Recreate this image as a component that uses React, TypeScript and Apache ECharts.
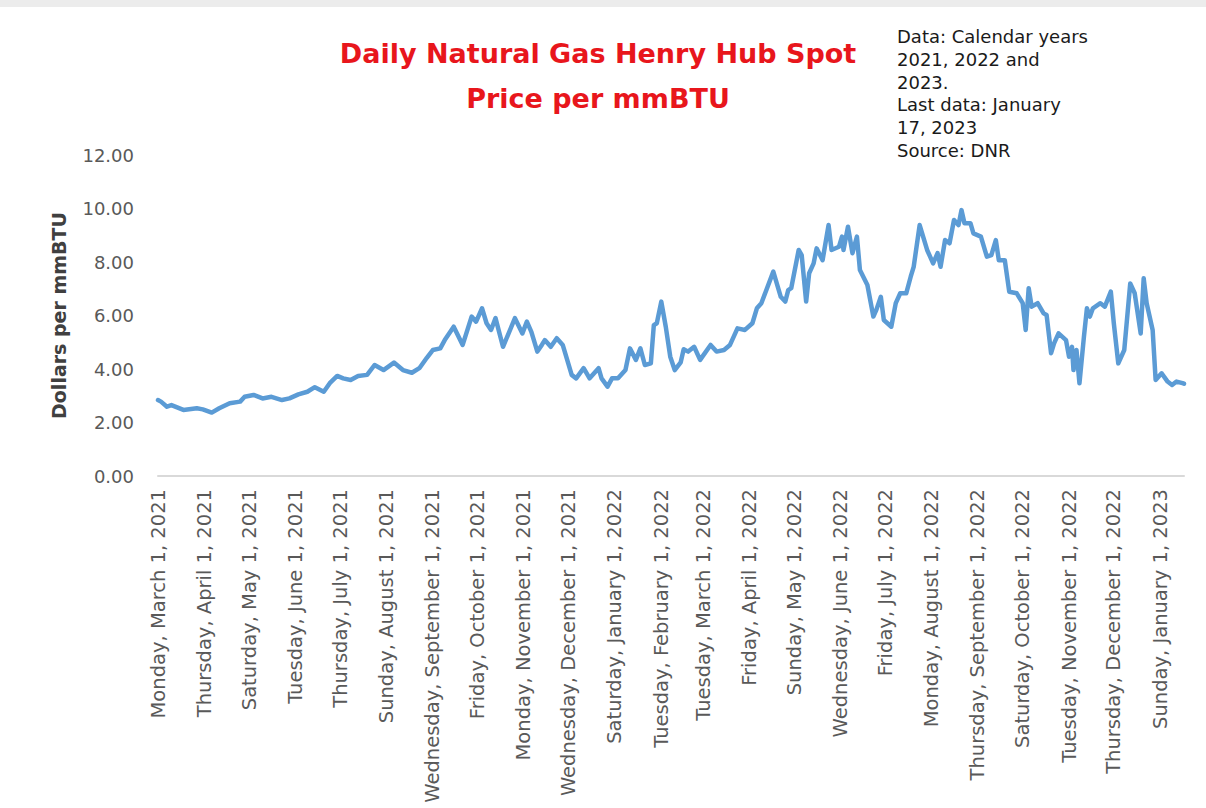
import React, { useEffect, useRef } from "react";
import * as echarts from "echarts";

const titleText = "Daily Natural Gas Henry Hub Spot\nPrice per mmBTU";
const noteLines = [
  "Data: Calendar years",
  "2021, 2022 and",
  "2023.",
  "Last data: January",
  "17, 2023",
  "Source: DNR",
];
const yAxisName = "Dollars per mmBTU";
const yTicks = { min: 0, max: 12, interval: 2 };
const axisStart = "2021-03-01";
const axisEnd = "2023-01-17";

const tickDates = [
  "2021-03-01", "2021-04-01", "2021-05-01", "2021-06-01", "2021-07-01", "2021-08-01",
  "2021-09-01", "2021-10-01", "2021-11-01", "2021-12-01", "2022-01-01", "2022-02-01",
  "2022-03-01", "2022-04-01", "2022-05-01", "2022-06-01", "2022-07-01", "2022-08-01",
  "2022-09-01", "2022-10-01", "2022-11-01", "2022-12-01", "2023-01-01",
];

const priceDates = [
  "2021-03-01", "2021-03-03", "2021-03-07", "2021-03-10", "2021-03-18", "2021-03-27", "2021-03-31",
  "2021-04-06", "2021-04-11", "2021-04-18", "2021-04-25", "2021-04-28",
  "2021-05-04", "2021-05-10", "2021-05-16", "2021-05-23", "2021-05-28",
  "2021-06-03", "2021-06-09", "2021-06-14", "2021-06-20", "2021-06-24", "2021-06-29",
  "2021-07-03", "2021-07-08", "2021-07-13", "2021-07-19", "2021-07-24", "2021-07-30",
  "2021-08-06", "2021-08-12", "2021-08-18", "2021-08-23", "2021-08-28",
  "2021-09-01", "2021-09-06", "2021-09-09", "2021-09-15", "2021-09-21", "2021-09-27", "2021-09-30",
  "2021-10-04", "2021-10-07", "2021-10-10", "2021-10-13", "2021-10-18", "2021-10-26", "2021-10-31",
  "2021-11-03", "2021-11-06", "2021-11-10", "2021-11-13", "2021-11-15", "2021-11-19", "2021-11-23", "2021-11-27",
  "2021-12-03", "2021-12-06", "2021-12-11", "2021-12-15", "2021-12-21", "2021-12-23", "2021-12-27", "2021-12-30",
  "2022-01-03", "2022-01-08", "2022-01-11", "2022-01-15", "2022-01-18", "2022-01-21", "2022-01-25", "2022-01-27", "2022-01-29",
  "2022-02-01", "2022-02-04", "2022-02-07", "2022-02-10", "2022-02-14", "2022-02-16", "2022-02-19", "2022-02-23", "2022-02-27",
  "2022-03-06", "2022-03-10", "2022-03-15", "2022-03-19", "2022-03-24", "2022-03-29",
  "2022-04-03", "2022-04-06", "2022-04-09", "2022-04-17", "2022-04-22", "2022-04-25", "2022-04-27", "2022-04-29",
  "2022-05-04", "2022-05-06", "2022-05-09", "2022-05-11", "2022-05-14", "2022-05-16", "2022-05-20", "2022-05-24", "2022-05-26", "2022-05-31",
  "2022-06-02", "2022-06-03", "2022-06-06", "2022-06-09", "2022-06-12", "2022-06-14", "2022-06-19", "2022-06-23", "2022-06-25", "2022-06-28", "2022-06-30",
  "2022-07-05", "2022-07-08", "2022-07-11", "2022-07-15", "2022-07-18", "2022-07-20", "2022-07-24", "2022-07-29", "2022-07-31",
  "2022-08-02", "2022-08-05", "2022-08-07", "2022-08-10", "2022-08-13", "2022-08-16", "2022-08-19", "2022-08-21", "2022-08-23", "2022-08-27", "2022-08-29",
  "2022-09-03", "2022-09-07", "2022-09-10", "2022-09-13", "2022-09-15", "2022-09-19", "2022-09-22", "2022-09-27",
  "2022-10-01", "2022-10-03", "2022-10-05", "2022-10-07", "2022-10-11", "2022-10-15", "2022-10-17", "2022-10-20", "2022-10-22", "2022-10-25", "2022-10-30",
  "2022-11-01", "2022-11-03", "2022-11-04", "2022-11-06", "2022-11-08", "2022-11-11", "2022-11-13", "2022-11-15", "2022-11-17", "2022-11-22", "2022-11-25", "2022-11-29",
  "2022-12-01", "2022-12-04", "2022-12-08", "2022-12-12", "2022-12-15", "2022-12-19", "2022-12-21", "2022-12-23", "2022-12-27", "2022-12-29",
  "2023-01-02", "2023-01-06", "2023-01-09", "2023-01-12", "2023-01-16", "2023-01-17",
];

const priceValues = [
  2.84, 2.78, 2.59, 2.65, 2.47, 2.53, 2.49,
  2.37, 2.53, 2.72, 2.78, 2.96,
  3.03, 2.9, 2.96, 2.84, 2.9,
  3.05, 3.15, 3.32, 3.15, 3.47, 3.74,
  3.65, 3.59, 3.74, 3.78, 4.15, 3.96,
  4.24, 3.96, 3.86, 4.03, 4.42,
  4.71, 4.77, 5.08, 5.58, 4.9, 5.96, 5.77,
  6.27, 5.71, 5.46, 5.9, 4.83, 5.9, 5.33,
  5.77, 5.39, 4.65, 4.9, 5.08, 4.83, 5.15, 4.9,
  3.78, 3.65, 4.03, 3.65, 4.03, 3.65, 3.34, 3.65,
  3.65, 3.96, 4.77, 4.34, 4.77, 4.15, 4.21, 5.64, 5.71,
  6.52, 5.58, 4.46, 3.96, 4.25, 4.74, 4.65, 4.83, 4.34,
  4.9, 4.65, 4.71, 4.9, 5.52, 5.46,
  5.71, 6.27, 6.46, 7.64, 6.7, 6.52, 6.95, 7.02,
  8.45, 8.26, 6.52, 7.58, 7.95, 8.51, 8.07, 9.38, 8.45, 8.57,
  8.95, 8.45, 9.32, 8.33, 8.95, 7.7, 7.14, 5.96, 6.21, 6.7, 5.83,
  5.58, 6.46, 6.83, 6.83, 7.45, 7.82, 9.38, 8.45, 8.2,
  7.95, 8.33, 7.82, 8.82, 8.7, 9.57, 9.38, 9.94, 9.45, 9.45, 9.07,
  8.95, 8.2, 8.26, 8.82, 8.07, 8.07, 6.89, 6.83,
  6.46, 5.46, 7.02, 6.33, 6.46, 6.08, 6.02, 4.59, 4.96, 5.33, 5.08,
  4.46, 4.83, 3.96, 4.71, 3.47, 5.21, 6.27, 5.96, 6.27, 6.46, 6.33, 6.89,
  5.71, 4.21, 4.71, 7.2, 6.83, 5.33, 7.39, 6.46, 5.46, 3.59,
  3.84, 3.53, 3.4, 3.53, 3.47, 3.45,
];

const toUTC = (s: string) => {
  const [y, m, d] = s.split("-").map(Number);
  return Date.UTC(y, m - 1, d);
};

const formatDate = (v: number) =>
  new Date(v).toLocaleDateString("en-US", {
    weekday: "long",
    month: "long",
    day: "numeric",
    year: "numeric",
    timeZone: "UTC",
  });

export default function App() {
  const ref = useRef<HTMLDivElement>(null);

  useEffect(() => {
    if (!ref.current) return;
    const chart = echarts.init(ref.current, null, { renderer: "svg" });
    const seriesData = priceDates.map((d, i) => [toUTC(d), priceValues[i]]);

    chart.setOption({
      animation: false,
      backgroundColor: "#ffffff",
      title: {
        text: titleText,
        left: 593,
        top: 26,
        textAlign: "center",
        textStyle: {
          fontFamily: "DejaVu Sans",
          fontSize: 27,
          fontWeight: "bold",
          color: "#e8161c",
          lineHeight: 45,
        },
      },
      graphic: [
        {
          type: "rect",
          left: 0,
          top: 0,
          shape: { width: 1206, height: 7 },
          style: { fill: "#ececec" },
          silent: true,
        },
        {
          type: "text",
          left: 897,
          top: 25,
          style: {
            text: noteLines.join("\n"),
            fontFamily: "DejaVu Sans",
            fontSize: 18,
            lineHeight: 22.8,
            fill: "#1a1a1a",
          },
        },
      ],
      grid: {
        left: 158,
        right: 22,
        top: 155,
        bottom: 332,
        containLabel: false,
      },
      xAxis: {
        type: "value",
        min: toUTC(axisStart),
        max: toUTC(axisEnd),
        axisLine: { show: true, lineStyle: { color: "#d9d9d9", width: 2 } },
        axisTick: { show: false },
        splitLine: { show: false },
        axisLabel: {
          customValues: tickDates.map(toUTC),
          rotate: 90,
          margin: 13,
          formatter: (v: number) => formatDate(v),
          fontFamily: "DejaVu Sans",
          fontSize: 19.5,
          color: "#595959",
          hideOverlap: false,
        },
      },
      yAxis: {
        type: "value",
        min: yTicks.min,
        max: yTicks.max,
        interval: yTicks.interval,
        name: yAxisName,
        nameLocation: "middle",
        nameGap: 90,
        nameTextStyle: {
          fontFamily: "DejaVu Sans",
          fontSize: 19,
          fontWeight: "bold",
          color: "#404040",
        },
        axisLine: { show: false },
        axisTick: { show: false },
        splitLine: { show: false },
        axisLabel: {
          margin: 24,
          formatter: (v: number) => v.toFixed(2),
          fontFamily: "DejaVu Sans",
          fontSize: 18,
          color: "#595959",
        },
      },
      series: [
        {
          type: "line",
          data: seriesData,
          showSymbol: false,
          symbol: "none",
          lineStyle: { color: "#5b9bd5", width: 4.5, join: "round", cap: "round" },
          itemStyle: { color: "#5b9bd5" },
        },
      ],
    });

    return () => chart.dispose();
  }, []);

  return (
    <div
      ref={ref}
      style={{ position: "fixed", left: 0, top: 0, width: 1206, height: 808 }}
    />
  );
}
